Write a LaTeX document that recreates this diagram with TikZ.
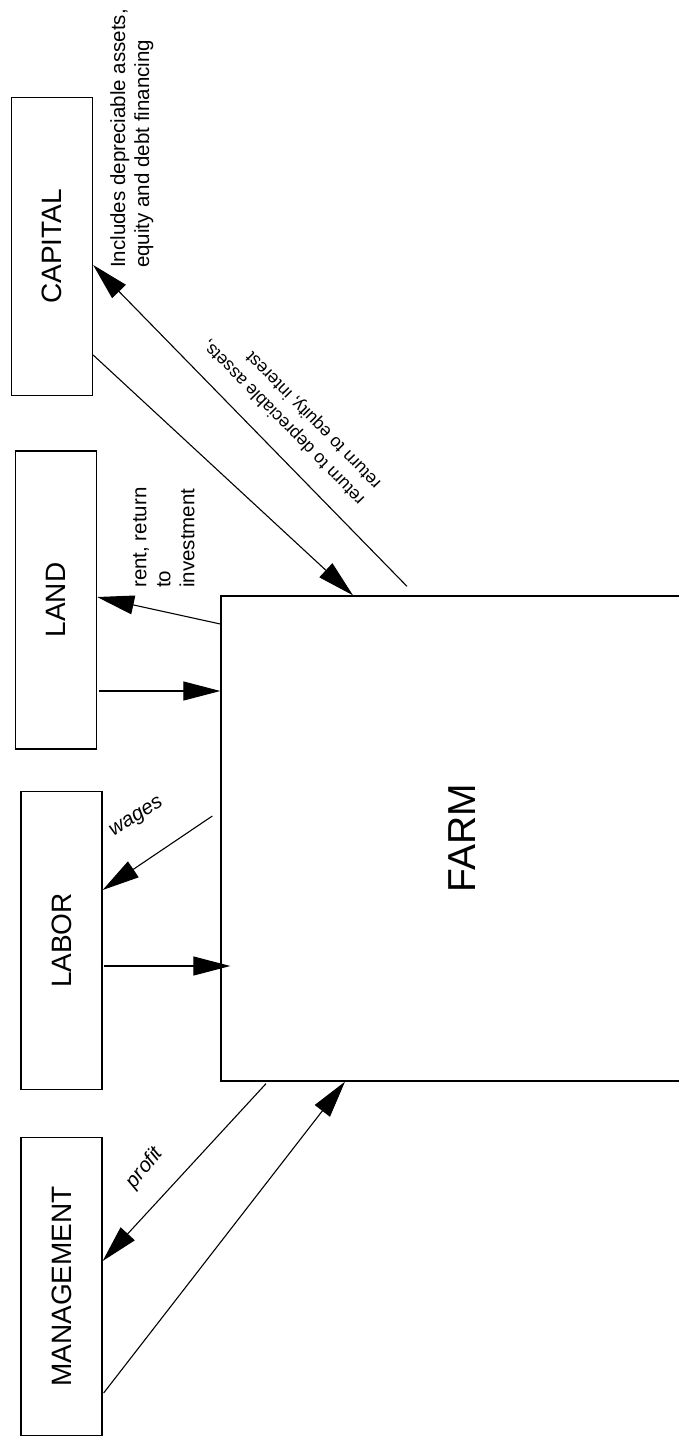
\documentclass[tikz,border=0pt]{standalone}
\usepackage{fontspec}
\setmainfont{Liberation Sans}
\usetikzlibrary{arrows.meta}

\begin{document}
\begin{tikzpicture}[x=1pt, y=1pt,
  factor/.style={draw, line width=1.3pt, minimum width=81pt, minimum height=298pt,
    inner sep=0pt, font=\fontsize{28}{33}\selectfont},
  flow/.style={line width=1.1pt, -{Triangle[length=37pt, width=19pt]}},
  note/.style={inner sep=0pt, align=left, font=\fontsize{20.5}{24}\selectfont}]
  % Page frame
  \useasboundingbox (0,0) rectangle (679,-1437);
  % The farm
  \node[draw, line width=1.3pt, minimum width=482pt, minimum height=485pt,
    font=\fontsize{39}{46}\selectfont] (farm) at (462,-838.5) {\rotatebox{90}{FARM}};
  % Factors
  \node[factor] (capital) at (52,-246.5) {\rotatebox{90}{CAPITAL}};
  \node[factor] (land) at (56,-600) {\rotatebox{90}{LAND}};
  \node[factor] (labor) at (61.5,-940.5) {\rotatebox{90}{LABOR}};
  \node[factor] (mgmt) at (61.5,-1286.5) {\rotatebox{90}{MANAGEMENT}};
  % Notes
  \node[note, rotate=90, anchor=north west] (capnote) at (110,-268)
    {Includes depreciable assets,\\equity and debt financing};
  \node[note, rotate=90, anchor=north west] (landnote) at (133,-588)
    {rent, return\\to\\investment};
  \node[note, rotate=134.5, font=\fontsize{17.7}{23}\selectfont] (capret) at (292,-414)
    {return to depreciable assets,\\return to equity, interest};
  \node[note, rotate=32, font=\fontsize{20.5}{24}\itshape] (wages) at (137,-818) {wages};
  \node[note, rotate=51, font=\fontsize{20.5}{24}\itshape] (profit) at (145,-1168) {profit};
  % Capital
  \draw[flow] ([yshift=-108.5pt]capital.east) -- ([xshift=-109pt]farm.north);
  \draw[flow] ([xshift=-55pt,yshift=9pt]farm.north) -- ([yshift=-18.5pt]capital.east);
  % Land
  \draw[flow] ([yshift=214.5pt]farm.west) -- ([yshift=3pt]land.east);
  \draw[flow] ([xshift=2pt,yshift=-91pt]land.east) -- ([yshift=147.5pt]farm.west);
  % Labor
  \draw[flow] ([xshift=-8pt,yshift=22.5pt]farm.west) -- ([yshift=50.5pt]labor.east);
  \draw[flow] ([xshift=1pt,yshift=-25.5pt]labor.east) -- ([xshift=10pt,yshift=-127.5pt]farm.west);
  % Management
  \draw[flow] ([xshift=-196pt,yshift=-2pt]farm.south) -- ([yshift=25.5pt]mgmt.east);
  \draw[flow] ([xshift=1pt,yshift=-106.5pt]mgmt.east) -- ([xshift=-117pt]farm.south);
\end{tikzpicture}
\end{document}
